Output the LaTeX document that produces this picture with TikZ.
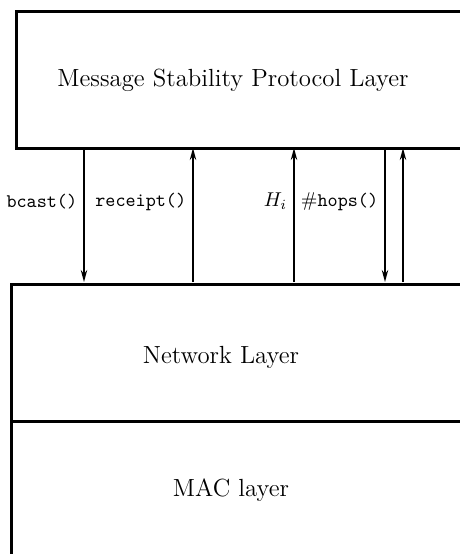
\documentclass[tikz,border=0pt]{standalone}
\usetikzlibrary{arrows.meta}
\begin{document}
\begin{tikzpicture}[x=0.5pt,y=-0.5pt,
  layer/.style={draw,line width=1.5pt,rectangle,inner sep=0pt,anchor=north west},
  title/.style={font=\fontsize{12.4}{15}\selectfont},
  call/.style={line width=0.9pt,-{Stealth[length=6pt,width=3.2pt]}},
  lbl/.style={left,inner sep=3pt,font=\fontsize{9.6}{12}\selectfont}]
\useasboundingbox (0,0) rectangle (460,554);
\clip (0,0) rectangle (460,554);
\node[layer,minimum width=230pt,minimum height=68.5pt] (msp) at (15,10) {};
\node[title] (msptxt) at (233,80) {Message Stability Protocol Layer};
\node[layer,minimum width=232.5pt,minimum height=68.5pt] (net) at (10,283) {};
\node[layer,minimum width=232.5pt,minimum height=70pt] (mac) at (10,420) {};
\node[title] (nettxt) at (221,357) {Network Layer};
\node[title] (mactxt) at (231,490) {MAC layer};
\coordinate (a1t) at (84,148); \coordinate (a1b) at (84,282);
\coordinate (a2t) at (193,148); \coordinate (a2b) at (193,282);
\coordinate (a3t) at (294,148); \coordinate (a3b) at (294,282);
\coordinate (a4t) at (385,148); \coordinate (a4b) at (385,282);
\coordinate (a5t) at (403,148); \coordinate (a5b) at (403,282);
\draw[call] (a1t) -- node[lbl,pos=0.4] (l1) {\texttt{bcast()}} (a1b);
\draw[call] (a2b) -- node[lbl,pos=0.6] (l2) {\texttt{receipt()}} (a2t);
\draw[call] (a3b) -- node[lbl,pos=0.6] (l3) {$H_i$} (a3t);
\draw[call] (a4t) -- node[lbl,pos=0.4] (l4) {$\#$\texttt{hops()}} (a4b);
\draw[call] (a5b) -- (a5t);
\end{tikzpicture}
\end{document}
